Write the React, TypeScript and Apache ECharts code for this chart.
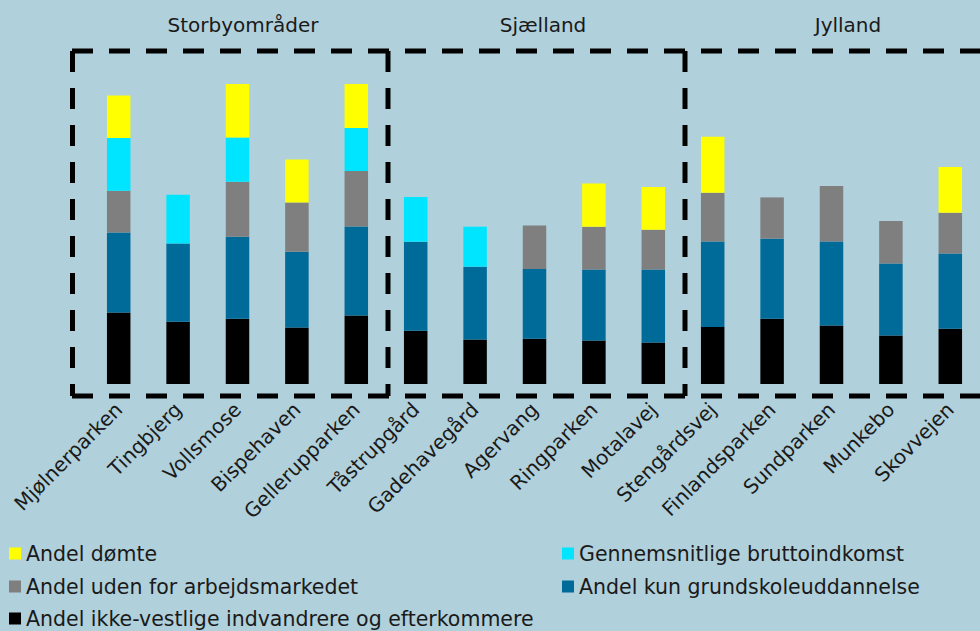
import React, { useEffect, useRef } from "react";
import * as echarts from "echarts";

const categories = [
  "Mjølnerparken", "Tingbjerg", "Vollsmose", "Bispehaven", "Gellerupparken",
  "Tåstrupgård", "Gadehavegård", "Agervang", "Ringparken", "Motalavej",
  "Stengårdsvej", "Finlandsparken", "Sundparken", "Munkebo", "Skovvejen",
];
const groupTitles = ["Storbyområder", "Sjælland", "Jylland"];

const seriesNames = [
  "Andel ikke-vestlige indvandrere og efterkommere",
  "Andel kun grundskoleuddannelse",
  "Andel uden for arbejdsmarkedet",
  "Gennemsnitlige bruttoindkomst",
  "Andel dømte",
];
const blackVals = [71.6, 62.3, 65.3, 56.6, 68.6, 53.3, 44.6, 45.3, 43.6, 41.6, 57.0, 65.3, 58.6, 48.6, 55.3];
const blueVals = [80.0, 78.3, 82.0, 75.7, 89.0, 89.0, 72.7, 69.7, 71.0, 73.0, 85.6, 80.0, 84.0, 72.0, 75.3];
const grayVals = [41.7, 0, 55.0, 49.3, 55.4, 0, 0, 43.6, 42.7, 39.7, 48.7, 41.3, 55.4, 42.4, 40.7];
const cyanVals = [52.7, 48.7, 44.3, 0, 43.0, 44.7, 40.0, 0, 0, 0, 0, 0, 0, 0, 0];
const yellowVals = [42.6, 0, 54.7, 43.0, 59.0, 0, 0, 0, 43.3, 42.7, 56.0, 0, 0, 0, 45.7];

const colors = ["#000000", "#006A98", "#7F7F7F", "#00E5FF", "#FFFF00"];
const FONT = "DejaVu Sans";
const TXT = "#1a1a1a";

export default function App() {
  const ref = useRef<HTMLDivElement>(null);
  useEffect(() => {
    if (!ref.current) return;
    const chart = echarts.init(ref.current, null, { renderer: "svg" });
    const values = [blackVals, blueVals, grayVals, cyanVals, yellowVals];
    const dash = { stroke: "#000", lineWidth: 5, lineDash: [21, 16] };
    const line = (x1: number, y1: number, x2: number, y2: number) => ({
      type: "line", shape: { x1, y1, x2, y2 }, style: dash, silent: true, z: 10,
    });
    const titleX = [243, 543, 848];
    // legend placement: [series index, left, top]
    const legendPos: [number, number, number][] = [
      [4, 4, 538], [3, 557, 538],
      [2, 4, 571], [1, 557, 571],
      [0, 4, 603],
    ];
    chart.setOption({
      animation: false,
      backgroundColor: "#B0D0DB",
      grid: { left: 89, width: 892, top: 84, height: 300 },
      xAxis: {
        type: "category",
        data: categories,
        axisLine: { show: false },
        axisTick: { show: false },
        axisLabel: {
          interval: 0, rotate: 45, fontSize: 20, fontFamily: FONT, color: TXT, margin: 22,
        },
      },
      yAxis: { type: "value", min: 0, max: 300, show: false, splitLine: { show: false } },
      legend: legendPos.map(([si, left, top]) => ({
        data: [seriesNames[si]],
        left, top, padding: 5,
        icon: "rect", itemWidth: 12, itemHeight: 12, selectedMode: false,
        textStyle: { fontSize: 20.5, fontFamily: FONT, color: TXT },
      })),
      graphic: [
        line(72, 51, 985, 51),
        line(72, 396, 985, 396),
        line(72.5, 51, 72.5, 396),
        line(388, 51, 388, 396),
        line(685, 51, 685, 396),
        ...groupTitles.map((t, i) => ({
          type: "text", x: titleX[i], y: 25, silent: true,
          style: { text: t, fontSize: 20, fontFamily: FONT, fill: TXT, align: "center", verticalAlign: "middle" },
        })),
      ],
      series: seriesNames.map((name, i) => ({
        name, type: "bar", stack: "total", barWidth: 23.5,
        itemStyle: { color: colors[i] },
        data: values[i],
      })),
    });
    return () => chart.dispose();
  }, []);
  return <div ref={ref} style={{ width: 980, height: 631, position: "absolute", left: 0, top: 0 }} />;
}
